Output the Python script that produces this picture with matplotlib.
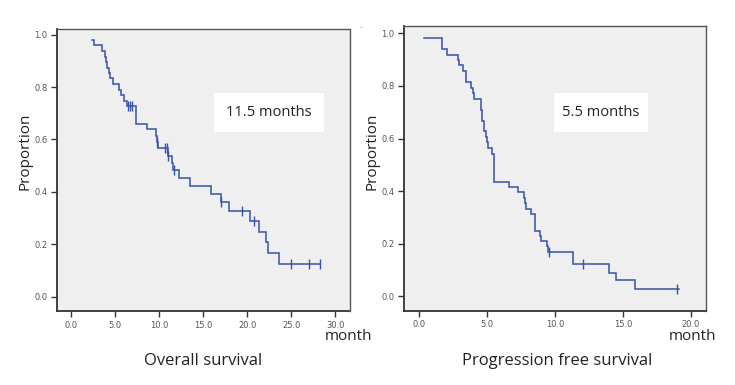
import matplotlib
matplotlib.use("Agg")
import matplotlib.pyplot as plt
import numpy as np

# ---------------- data ----------------
os_start = [2.42, 0.98]
os_times = [2.65, 3.49, 3.90, 3.98, 4.05, 4.28, 4.38, 4.81, 5.49, 5.65, 6.06, 6.31,
            7.39, 8.67, 9.62, 9.72, 9.89, 10.95, 11.40, 11.55, 12.23, 13.45, 15.90,
            17.05, 17.95, 20.34, 21.36, 22.16, 22.30, 23.56]
os_surv = [0.961, 0.939, 0.916, 0.895, 0.874, 0.853, 0.834, 0.812, 0.789, 0.770, 0.748, 0.728,
           0.659, 0.639, 0.612, 0.589, 0.566, 0.537, 0.509, 0.483, 0.452, 0.421, 0.392,
           0.360, 0.327, 0.290, 0.248, 0.207, 0.166, 0.124]
os_end = 28.2
os_cens_t = [6.52, 6.72, 6.92, 9.80, 10.65, 10.85, 11.00, 11.70, 17.05, 19.36, 20.80, 25.0, 27.0, 28.2]

pfs_start = [0.34, 0.981]
pfs_times = [1.70, 2.02, 2.88, 2.95, 3.22, 3.44, 3.80, 3.97, 4.05, 4.53, 4.63, 4.77, 4.90,
             4.98, 5.08, 5.38, 5.48, 6.64, 7.23, 7.68, 7.75, 7.85, 8.22, 8.54, 8.86, 8.95,
             9.40, 9.48, 11.30, 13.95, 14.47, 15.87]
pfs_surv = [0.939, 0.919, 0.898, 0.879, 0.855, 0.816, 0.794, 0.772, 0.751, 0.708, 0.667,
            0.628, 0.606, 0.585, 0.564, 0.542, 0.435, 0.417, 0.396, 0.375, 0.353, 0.332,
            0.312, 0.250, 0.228, 0.209, 0.190, 0.169, 0.121, 0.089, 0.060, 0.029]
pfs_end = 19.11
pfs_cens_t = [9.52, 12.08, 18.95]

os_label = "11.5 months"
pfs_label = "5.5 months"
os_title = "Overall survival"
pfs_title = "Progression free survival"
ylabel = "Proportion"
xlabel = "month"
os_xticks = [0, 5, 10, 15, 20, 25, 30]
pfs_xticks = [0, 5, 10, 15, 20]
yticks = [0.0, 0.2, 0.4, 0.6, 0.8, 1.0]

# ---------------- drawing ----------------
W, H = 735, 385
fig = plt.figure(figsize=(W / 100, H / 100), dpi=100)
fig.patch.set_facecolor("white")

LINE = "#3552a8"
FONT = "Open Sans"


def step_xy(start, times, surv, end):
    xs = [start[0]]
    ys = [start[1]]
    cur = start[1]
    for t, s in zip(times, surv):
        xs += [t, t]
        ys += [cur, s]
        cur = s
    xs.append(end)
    ys.append(cur)
    return np.array(xs), np.array(ys)


def surv_at(start, times, surv, t):
    cur = start[1]
    for tt, s in zip(times, surv):
        if t >= tt:
            cur = s
    return cur


def panel(rect, start, times, surv, end, cens, xlim, ylim, xticks, label, box_px):
    ax = fig.add_axes(rect)
    ax.set_facecolor("#efefef")
    xs, ys = step_xy(start, times, surv, end)
    ax.plot(xs, ys, color=LINE, lw=1.1, solid_joinstyle="miter")
    cy = [surv_at(start, times, surv, t) for t in cens]
    ax.plot(cens, cy, ls="none", marker="|", ms=7, mew=1.0, color=LINE)
    ax.set_xlim(*xlim)
    ax.set_ylim(*ylim)
    ax.set_xticks(xticks)
    ax.set_xticklabels([f"{v:.1f}" for v in xticks])
    ax.set_yticks(yticks)
    ax.set_yticklabels([f"{v:.1f}" for v in yticks])
    ax.tick_params(direction="out", length=4, width=1, colors="#333333",
                   labelsize=6, labelcolor="#555555", pad=3)
    for side in ["left", "bottom"]:
        ax.spines[side].set_color("#333333")
        ax.spines[side].set_linewidth(1.3)
    for side in ["top", "right"]:
        ax.spines[side].set_color("#555555")
        ax.spines[side].set_linewidth(1.0)
    # white annotation box (pixel coordinates)
    x0, y0, x1, y1 = box_px
    fig.patches.append(plt.Rectangle((x0 / W, 1 - y1 / H), (x1 - x0) / W, (y1 - y0) / H,
                                     transform=fig.transFigure, facecolor="white",
                                     edgecolor="none", zorder=5))
    fig.text((x0 + x1) / 2 / W, 1 - (y0 + y1) / 2 / H, label, ha="center", va="center",
             fontsize=10.5, family=FONT, color="#222222", zorder=6)
    return ax


ax1 = panel([57.3 / W, 1 - 311 / H, (349.5 - 57.3) / W, (311 - 29) / H],
            os_start, os_times, os_surv, os_end, os_cens_t,
            (-1.56, 31.6), (-0.055, 1.022), os_xticks, os_label, (214, 92.7, 324, 131.7))
ax2 = panel([404.3 / W, 1 - 310.7 / H, (706 - 404.3) / W, (310.7 - 26) / H],
            pfs_start, pfs_times, pfs_surv, pfs_end, pfs_cens_t,
            (-1.1, 21.1), (-0.055, 1.028), pfs_xticks, pfs_label, (554.3, 92.7, 647.7, 132.3))

# axis labels and titles (pixel positions)
def ptxt(x, y, s, color="#222222", **kw):
    fig.text(x / W, 1 - y / H, s, family=FONT, color=color, **kw)

ptxt(25, 151, ylabel, rotation=90, ha="center", va="center", fontsize=11)
ptxt(372, 151, ylabel, rotation=90, ha="center", va="center", fontsize=11)
ptxt(349, 337, xlabel, ha="center", va="center", fontsize=11)
ptxt(693, 337, xlabel, ha="center", va="center", fontsize=11)
ptxt(203, 361, os_title, ha="center", va="center", fontsize=12)
ptxt(557, 361, pfs_title, ha="center", va="center", fontsize=12)
ptxt(361, 28, "-", ha="center", va="center", fontsize=6, color="#5570b0")

fig.savefig("out.png", dpi=100, facecolor="white")
